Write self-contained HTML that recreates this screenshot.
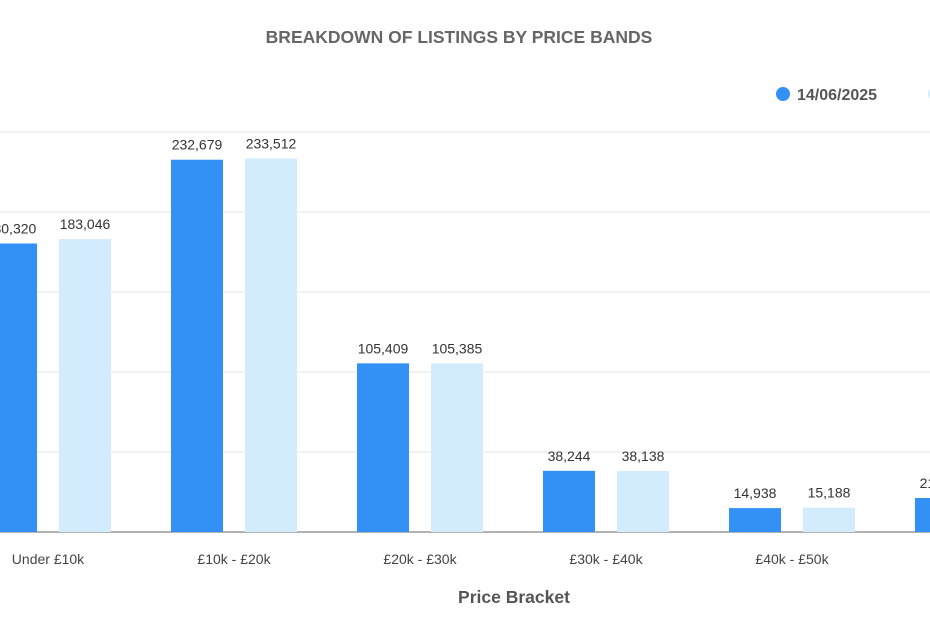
<!DOCTYPE html>
<html><head><meta charset="utf-8"><style>
body{margin:0;background:#fff;}
svg{display:block;font-family:"Liberation Sans",sans-serif;}
</style></head><body>
<svg id="chart" width="930" height="620">
<text x="459" y="43" text-anchor="middle" font-size="17.5" font-weight="bold" fill="#666">BREAKDOWN OF LISTINGS BY PRICE BANDS</text>
<g><circle cx="783" cy="94" r="7" fill="#3390f5"/><text x="797" y="100" font-size="16" font-weight="bold" fill="#555">14/06/2025</text></g>
<g><circle cx="935" cy="94" r="7" fill="#d3ecfd"/></g>
<g id="grid"></g><g id="bars"></g>
<text x="514" y="603" text-anchor="middle" font-size="17.5" font-weight="bold" fill="#555">Price Bracket</text>
</svg>
<script>
const categories=["Under £10k","£10k - £20k","£20k - £30k","£30k - £40k","£40k - £50k","£50k+"];
const series1=[180320,232679,105409,38244,14938,21250];
const series2=[183046,233512,105385,38138,15188,21500];
const yTicks=[0,50000,100000,150000,200000,250000];
const NS="http://www.w3.org/2000/svg";
const base=532,scale=80/50000,x0=48,step=186;
const y=v=>base-v*scale, xc=i=>x0+i*step;
function mk(t,a,p){const e=document.createElementNS(NS,t);for(const k in a)e.setAttribute(k,a[k]);p.appendChild(e);return e;}
const g=document.getElementById('grid'),b=document.getElementById('bars');
yTicks.forEach(t=>{const l=mk('line',{x1:0,x2:930,y1:y(t),y2:y(t),stroke:t?'#e6e6e6':'#999','stroke-width':t?1:1.5},g);

});
categories.forEach((c,i)=>{
 [[series1,-37,'#3390f5'],[series2,37,'#d3ecfd']].forEach(([s,o,col])=>{
  const r=mk('rect',{x:xc(i)+o-26,y:y(s[i]),width:52,height:s[i]*scale,fill:col},b);
  
  
  const t=mk('text',{x:xc(i)+o,y:y(s[i])-10,'text-anchor':'middle','font-size':14,fill:'#333'},b);
  t.textContent=s[i].toLocaleString('en-US');
  
  
 });
 const t=mk('text',{x:xc(i),y:564,'text-anchor':'middle','font-size':14,fill:'#444'},b);
 t.textContent=c;
 
 
});
</script>
</body></html>
